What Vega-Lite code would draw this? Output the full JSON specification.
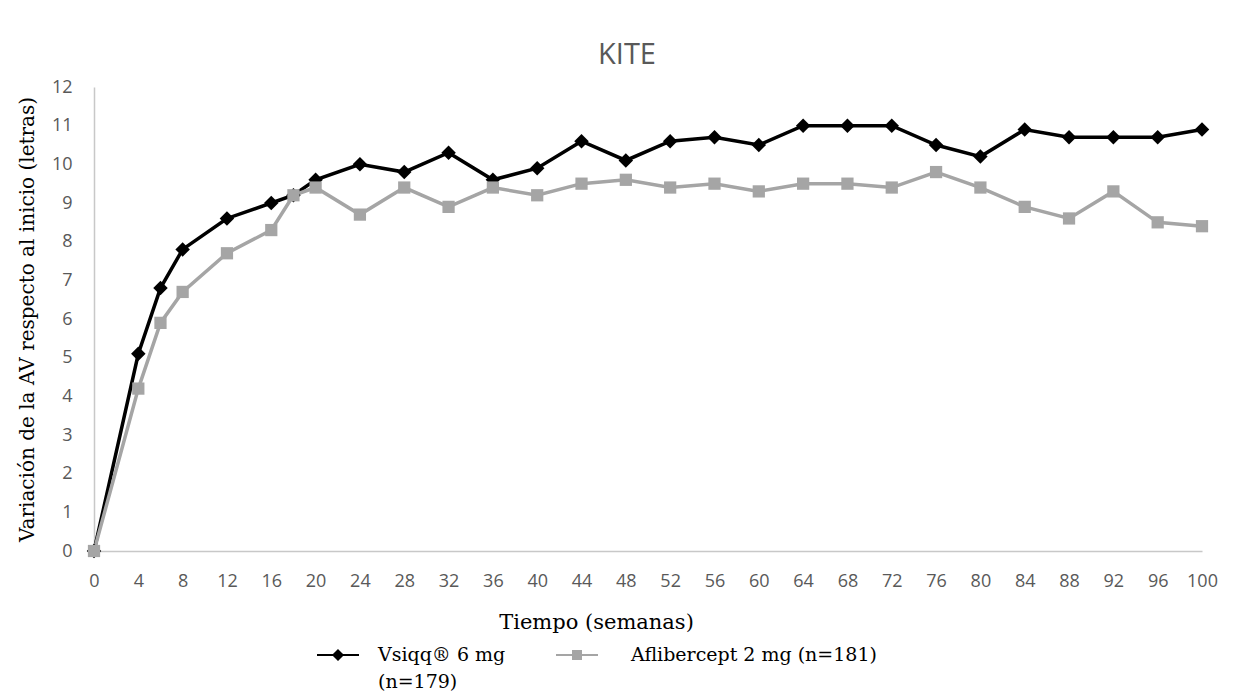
{
  "$schema": "https://vega.github.io/schema/vega-lite/v6.json",
  "width": 1108,
  "height": 464,
  "autosize": {"type": "none"},
  "padding": {"left": 94, "top": 87, "right": 46, "bottom": 148},
  "background": "white",
  "title": {
    "text": "KITE",
    "font": "Open Sans",
    "fontSize": 29,
    "fontWeight": "normal",
    "color": "#595959",
    "anchor": "middle",
    "offset": 8,
    "dx": -21
  },
  "config": {
    "view": {"stroke": null},
    "axis": {"grid": false, "domainColor": "#c8c8c8", "domainWidth": 1.5, "ticks": false, "labelFont": "Open Sans", "labelFontSize": 18, "labelColor": "#595959"}
  },
  "data": {
    "values": [
      {"week": 0, "series": "Vsiqq® 6 mg (n=179)", "value": 0},
      {"week": 4, "series": "Vsiqq® 6 mg (n=179)", "value": 5.1},
      {"week": 6, "series": "Vsiqq® 6 mg (n=179)", "value": 6.8},
      {"week": 8, "series": "Vsiqq® 6 mg (n=179)", "value": 7.8},
      {"week": 12, "series": "Vsiqq® 6 mg (n=179)", "value": 8.6},
      {"week": 16, "series": "Vsiqq® 6 mg (n=179)", "value": 9.0},
      {"week": 18, "series": "Vsiqq® 6 mg (n=179)", "value": 9.2},
      {"week": 20, "series": "Vsiqq® 6 mg (n=179)", "value": 9.6},
      {"week": 24, "series": "Vsiqq® 6 mg (n=179)", "value": 10.0},
      {"week": 28, "series": "Vsiqq® 6 mg (n=179)", "value": 9.8},
      {"week": 32, "series": "Vsiqq® 6 mg (n=179)", "value": 10.3},
      {"week": 36, "series": "Vsiqq® 6 mg (n=179)", "value": 9.6},
      {"week": 40, "series": "Vsiqq® 6 mg (n=179)", "value": 9.9},
      {"week": 44, "series": "Vsiqq® 6 mg (n=179)", "value": 10.6},
      {"week": 48, "series": "Vsiqq® 6 mg (n=179)", "value": 10.1},
      {"week": 52, "series": "Vsiqq® 6 mg (n=179)", "value": 10.6},
      {"week": 56, "series": "Vsiqq® 6 mg (n=179)", "value": 10.7},
      {"week": 60, "series": "Vsiqq® 6 mg (n=179)", "value": 10.5},
      {"week": 64, "series": "Vsiqq® 6 mg (n=179)", "value": 11.0},
      {"week": 68, "series": "Vsiqq® 6 mg (n=179)", "value": 11.0},
      {"week": 72, "series": "Vsiqq® 6 mg (n=179)", "value": 11.0},
      {"week": 76, "series": "Vsiqq® 6 mg (n=179)", "value": 10.5},
      {"week": 80, "series": "Vsiqq® 6 mg (n=179)", "value": 10.2},
      {"week": 84, "series": "Vsiqq® 6 mg (n=179)", "value": 10.9},
      {"week": 88, "series": "Vsiqq® 6 mg (n=179)", "value": 10.7},
      {"week": 92, "series": "Vsiqq® 6 mg (n=179)", "value": 10.7},
      {"week": 96, "series": "Vsiqq® 6 mg (n=179)", "value": 10.7},
      {"week": 100, "series": "Vsiqq® 6 mg (n=179)", "value": 10.9},
      {"week": 0, "series": "Aflibercept 2 mg (n=181)", "value": 0},
      {"week": 4, "series": "Aflibercept 2 mg (n=181)", "value": 4.2},
      {"week": 6, "series": "Aflibercept 2 mg (n=181)", "value": 5.9},
      {"week": 8, "series": "Aflibercept 2 mg (n=181)", "value": 6.7},
      {"week": 12, "series": "Aflibercept 2 mg (n=181)", "value": 7.7},
      {"week": 16, "series": "Aflibercept 2 mg (n=181)", "value": 8.3},
      {"week": 18, "series": "Aflibercept 2 mg (n=181)", "value": 9.2},
      {"week": 20, "series": "Aflibercept 2 mg (n=181)", "value": 9.4},
      {"week": 24, "series": "Aflibercept 2 mg (n=181)", "value": 8.7},
      {"week": 28, "series": "Aflibercept 2 mg (n=181)", "value": 9.4},
      {"week": 32, "series": "Aflibercept 2 mg (n=181)", "value": 8.9},
      {"week": 36, "series": "Aflibercept 2 mg (n=181)", "value": 9.4},
      {"week": 40, "series": "Aflibercept 2 mg (n=181)", "value": 9.2},
      {"week": 44, "series": "Aflibercept 2 mg (n=181)", "value": 9.5},
      {"week": 48, "series": "Aflibercept 2 mg (n=181)", "value": 9.6},
      {"week": 52, "series": "Aflibercept 2 mg (n=181)", "value": 9.4},
      {"week": 56, "series": "Aflibercept 2 mg (n=181)", "value": 9.5},
      {"week": 60, "series": "Aflibercept 2 mg (n=181)", "value": 9.3},
      {"week": 64, "series": "Aflibercept 2 mg (n=181)", "value": 9.5},
      {"week": 68, "series": "Aflibercept 2 mg (n=181)", "value": 9.5},
      {"week": 72, "series": "Aflibercept 2 mg (n=181)", "value": 9.4},
      {"week": 76, "series": "Aflibercept 2 mg (n=181)", "value": 9.8},
      {"week": 80, "series": "Aflibercept 2 mg (n=181)", "value": 9.4},
      {"week": 84, "series": "Aflibercept 2 mg (n=181)", "value": 8.9},
      {"week": 88, "series": "Aflibercept 2 mg (n=181)", "value": 8.6},
      {"week": 92, "series": "Aflibercept 2 mg (n=181)", "value": 9.3},
      {"week": 96, "series": "Aflibercept 2 mg (n=181)", "value": 8.5},
      {"week": 100, "series": "Aflibercept 2 mg (n=181)", "value": 8.4}
    ]
  },
  "encoding": {
    "x": {
      "field": "week", "type": "quantitative",
      "scale": {"domain": [0, 100], "nice": false, "zero": false},
      "axis": {
        "values": [0,4,8,12,16,20,24,28,32,36,40,44,48,52,56,60,64,68,72,76,80,84,88,92,96,100],
        "labelPadding": 21,
        "labelFlush": false,
        "title": "Tiempo (semanas)",
        "titleFont": "DejaVu Serif",
        "titleFontSize": 21,
        "titleFontWeight": "normal",
        "titleColor": "#000000",
        "titleX": 502,
        "titleY": 77,
        "titleAnchor": null,
        "titleAlign": "center",
        "titleBaseline": "alphabetic"
      }
    },
    "y": {
      "field": "value", "type": "quantitative",
      "scale": {"domain": [0, 12], "nice": false},
      "axis": {
        "values": [0,1,2,3,4,5,6,7,8,9,10,11,12],
        "labelPadding": 22,
        "labelFlush": false,
        "title": "Variación de la AV respecto al inicio (letras)",
        "titleFont": "DejaVu Serif",
        "titleFontSize": 20,
        "titleFontWeight": "normal",
        "titleColor": "#000000",
        "titleAngle": -90,
        "titleX": -67,
        "titleY": 232,
        "titleAlign": "center",
        "titleBaseline": "middle"
      }
    },
    "color": {
      "field": "series", "type": "nominal",
      "scale": {"domain": ["Vsiqq® 6 mg (n=179)", "Aflibercept 2 mg (n=181)"], "range": ["#000000", "#a5a5a5"]},
      "legend": {
        "orient": "none",
        "legendX": 222,
        "legendY": 546,
        "direction": "horizontal",
        "title": null,
        "symbolSize": 1764,
        "symbolStrokeWidth": 2,
        "symbolOpacity": 1,
        "labelFont": "DejaVu Serif",
        "labelFontSize": 19,
        "labelColor": "#000000",
        "labelOffset": 18,
        "labelLimit": 400,
        "labelBaseline": "alphabetic",
        "columnPadding": 46,
        "labelExpr": "datum.label == 'Vsiqq® 6 mg (n=179)' ? ['Vsiqq® 6 mg', '(n=179)'] : [datum.label, ' ']",
        "encode": {
          "symbols": {
            "update": {
              "shape": {"signal": "datum.value == 'Vsiqq® 6 mg (n=179)' ? 'M-1,0H1M0,-0.22L0.22,0L0,0.22L-0.22,0Z' : 'M-1,0H1M-0.19,-0.19H0.19V0.19H-0.19Z'"},
              "stroke": {"signal": "datum.value == 'Vsiqq® 6 mg (n=179)' ? '#000000' : '#a5a5a5'"},
              "fill": {"signal": "datum.value == 'Vsiqq® 6 mg (n=179)' ? '#000000' : '#a5a5a5'"},
              "opacity": {"value": 1},
              "strokeWidth": {"value": 2}
            }
          },
          "labels": {
            "update": {
              "dy": {"value": 6},
              "dx": {"signal": "datum.value == 'Aflibercept 2 mg (n=181)' ? 14 : 0"},
              "lineHeight": {"value": 27}
            }
          }
        }
      }
    }
  },
  "layer": [
    {
      "mark": {"type": "line", "strokeWidth": 3.5},
      "encoding": {"order": {"field": "week"}}
    },
    {
      "transform": [{"filter": "datum.series == 'Vsiqq® 6 mg (n=179)'"}],
      "mark": {"type": "point", "filled": true, "opacity": 1, "shape": "diamond", "size": 210}
    },
    {
      "transform": [{"filter": "datum.series == 'Aflibercept 2 mg (n=181)'"}],
      "mark": {"type": "point", "filled": true, "opacity": 1, "shape": "square", "size": 150}
    }
  ]
}
